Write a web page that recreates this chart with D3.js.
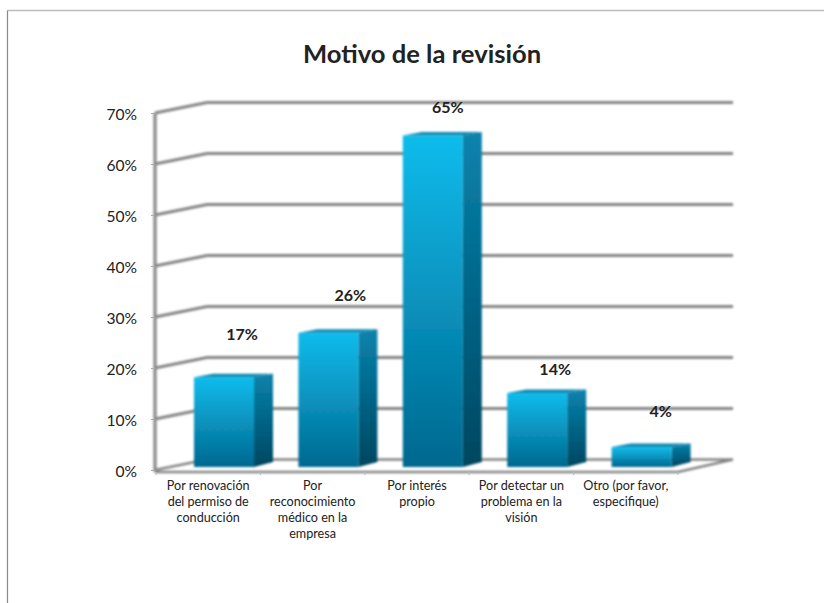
<!DOCTYPE html>
<html><head><meta charset="utf-8">
<script src="https://cdn.jsdelivr.net/npm/d3@7"></script>
<style>html,body{margin:0;padding:0;background:#fff}svg{display:block}text{font-family:Lato,"Open Sans",sans-serif;fill:#222}</style>
</head><body><div id="c"></div>
<script>
const title = "Motivo de la revisión";
const categories = ["Por renovación del permiso de conducción","Por reconocimiento médico en la empresa","Por interés propio","Por detectar un problema en la visión","Otro (por favor, especifique)"];
const categoryLines = [["Por renovación","del permiso de","conducción"],["Por","reconocimiento","médico en la","empresa"],["Por interés","propio"],["Por detectar un","problema en la","visión"],["Otro (por favor,","especifique)"]];
const values = [17.6, 26.3, 65, 14.5, 3.9];
const valueLabels = ["17%","26%","65%","14%","4%"];
const labelLift = [43, 37, 28, 24, 36];
const labelNudge = [0, 4, -3, 0, 1];
const tickValues = [0,10,20,30,40,50,60,70];

const W=824,H=603;
const svg=d3.select("#c").append("svg").attr("width",W).attr("height",H);
const defs=svg.append("defs");
function grad(id,c1,c2){const g=defs.append("linearGradient").attr("id",id).attr("x1",0).attr("y1",0).attr("x2",0).attr("y2",1);
  g.append("stop").attr("offset","0%").attr("stop-color",c1);g.append("stop").attr("offset","100%").attr("stop-color",c2);}
grad("front","#0cbcec","#03688f");grad("side","#0883ad","#024660");
defs.append("filter").attr("id","soft").attr("x","-5%").attr("y","-5%").attr("width","110%").attr("height","110%")
  .append("feGaussianBlur").attr("stdDeviation",0.8);

// frame
svg.append("path").attr("d",`M7.5,${H}V10.5H${W}`).attr("fill","none").attr("stroke","#bdbdbd").attr("stroke-width",1.4);
svg.append("line").attr("x1",7.5).attr("x2",7.5).attr("y1",11).attr("y2",H).attr("stroke","#8a8a8a");

svg.append("text").attr("x",422).attr("y",63).attr("text-anchor","middle").attr("font-size",25.6).attr("font-weight",700).text(title);

const y=d3.scaleLinear().domain([0,70]).range([470,113]);
const x=d3.scaleBand().domain(categories).range([156,678]);
const wallDx=51,wallDy=-10.5,wallRight=733;
const barW=60,barDx=19,barDy=-3.5,barBase=-3,barShift=38;

// walls & gridlines
const grid=svg.append("g").attr("filter","url(#soft)").attr("fill","none").attr("stroke","#858585");
grid.selectAll("path.g").data(tickValues.filter(d=>d>0)).join("path").attr("class","g")
  .attr("stroke-width",3)
  .attr("d",d=>`M${x.range()[0]-1},${y(d)}L${x.range()[0]+wallDx},${y(d)+wallDy}H${wallRight}`);
grid.append("path").attr("stroke-width",2.6)
  .attr("d",`M${x.range()[0]-1},${y(0)}L${x.range()[0]+wallDx},${y(0)+wallDy}H${wallRight}L${x.range()[1]},${y(0)+2}H${x.range()[0]-1}`);
grid.append("line").attr("stroke-width",3.4).attr("stroke","#8d8d8d")
  .attr("x1",x.range()[0]-1).attr("x2",x.range()[0]-1).attr("y1",y(70)).attr("y2",y(0)+2);

// axes
const yAxis=svg.append("g").attr("transform",`translate(${x.range()[0]-1},0)`)
  .call(d3.axisLeft(y).tickValues(tickValues).tickFormat(d=>d+"%").tickSize(4).tickPadding(14));
yAxis.select(".domain").remove();
yAxis.selectAll("line").attr("stroke","#aaa");
yAxis.selectAll("text").attr("font-size",15.6).attr("dy","0.43em").attr("fill","#222").style("font-family",'Lato,"Open Sans",sans-serif');

const xAxis=svg.append("g").attr("transform",`translate(0,${y(0)+2})`)
  .call(d3.axisBottom(x).tickValues([]).tickSizeOuter(0));
xAxis.select(".domain").remove();
svg.append("g").selectAll("line").data(categories.map(c=>x(c)).concat([x.range()[1]])).join("line")
  .attr("x1",d=>d).attr("x2",d=>d).attr("y1",y(0)+2).attr("y2",y(0)+5).attr("stroke","#bbb");

// category labels
const cat=svg.append("g").selectAll("text").data(categories).join("text")
  .attr("text-anchor","middle").attr("font-size",12.6).attr("fill","#333");
cat.each(function(c,i){
  d3.select(this).selectAll("tspan").data(categoryLines[i]).join("tspan")
    .attr("x",x(c)+x.bandwidth()/2).attr("y",(d,j)=>489.5+j*16).text(d=>d);
});

// bars
const bars=svg.append("g").attr("filter","url(#soft)").selectAll("g").data(categories).join("g");
bars.each(function(c,i){
  const g=d3.select(this);
  const x0=x(c)+barShift,x1=x0+barW,b=y(0)+barBase,t=y(values[i])+barBase;
  g.append("path").attr("fill","url(#side)").attr("d",`M${x1},${t}L${x1+barDx},${t+barDy}V${b-5}L${x1},${b}Z`);
  g.append("path").attr("fill","#0b8ab3").attr("d",`M${x0},${t}L${x0+barDx},${t+barDy}H${x1+barDx}L${x1},${t}Z`);
  g.append("rect").attr("x",x0).attr("y",t).attr("width",barW).attr("height",b-t).attr("fill","url(#front)");
});

// data labels
svg.append("g").selectAll("text").data(categories).join("text")
  .attr("x",(c,i)=>x(c)+barShift+barW/2+(barDx-1)+labelNudge[i])
  .attr("y",(c,i)=>y(values[i])+barBase-labelLift[i]+5.5)
  .attr("text-anchor","middle").attr("font-size",16).attr("font-weight",700)
  .text((c,i)=>valueLabels[i]);
</script></body></html>
